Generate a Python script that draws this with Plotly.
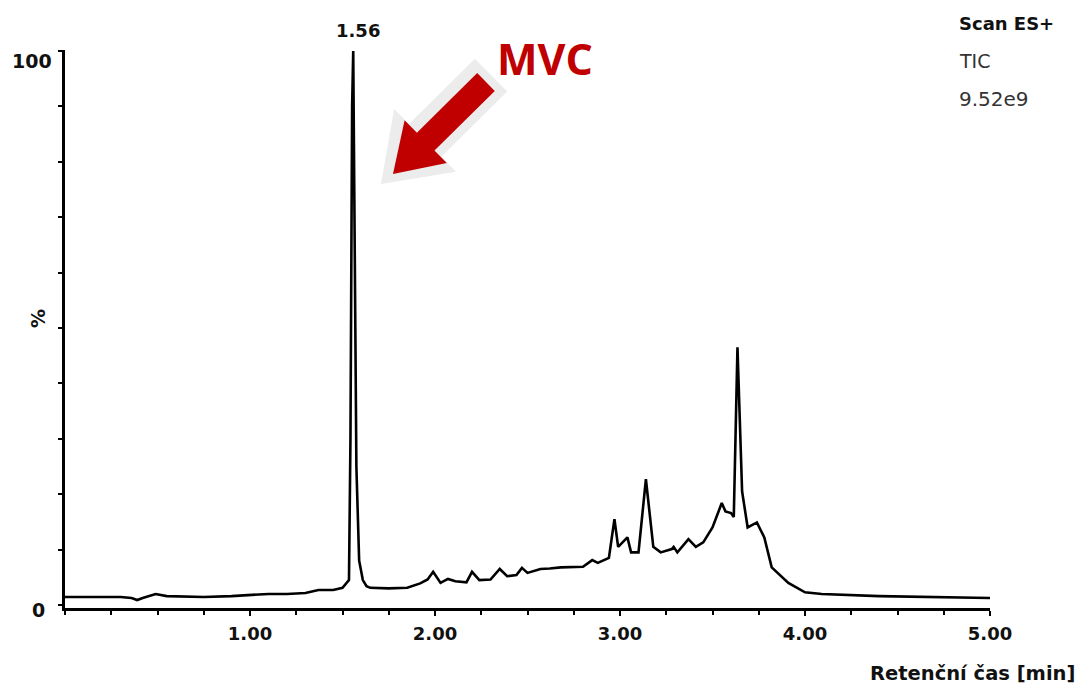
import plotly.graph_objects as go
import math

# ---- data (retention time [min], relative intensity [%]) ----
time_min = [0.00, 0.30, 0.36, 0.39, 0.42, 0.49, 0.55, 0.75, 0.90, 1.00, 1.10, 1.20, 1.30,
            1.37, 1.45, 1.50, 1.535, 1.543, 1.552, 1.558, 1.565, 1.575, 1.59, 1.61, 1.63,
            1.65, 1.75, 1.85, 1.92, 1.96, 1.99, 2.03, 2.07, 2.11, 2.17, 2.20, 2.24, 2.30,
            2.35, 2.39, 2.44, 2.47, 2.50, 2.57, 2.62, 2.68, 2.80, 2.85, 2.88, 2.94, 2.97,
            2.99, 3.04, 3.06, 3.10, 3.14, 3.18, 3.22, 3.28, 3.29, 3.31, 3.37, 3.41, 3.45,
            3.50, 3.55, 3.57, 3.60, 3.615, 3.635, 3.66, 3.69, 3.74, 3.78, 3.82, 3.91, 4.00,
            4.09, 4.40, 4.80, 5.00]
intensity = [1.44, 1.44, 1.26, 0.90, 1.26, 1.98, 1.60, 1.44, 1.60, 1.80, 2.00, 2.00, 2.16,
             2.70, 2.70, 3.10, 4.50, 30.0, 90.0, 100.0, 70.0, 25.0, 8.0, 4.5, 3.4,
             3.1, 3.0, 3.1, 3.9, 4.6, 6.0, 4.0, 4.7, 4.3, 4.1, 6.0, 4.5, 4.6,
             6.5, 5.2, 5.4, 6.7, 5.8, 6.5, 6.6, 6.8, 6.9, 8.1, 7.6, 8.5, 15.5,
             10.5, 12.2, 9.5, 9.5, 22.7, 10.5, 9.5, 10.1, 10.5, 9.5, 11.9, 10.5, 11.3,
             14.0, 18.4, 16.9, 16.6, 15.9, 46.5, 20.5, 14.0, 14.9, 12.2, 6.8, 4.0, 2.3,
             2.0, 1.6, 1.4, 1.26]

x_tick_vals = [1, 2, 3, 4, 5]
x_tick_text = ["1.00", "2.00", "3.00", "4.00", "5.00"]
x_minor_vals = [i * 0.25 for i in range(0, 21)]
y_tick_vals = [0, 10, 20, 30, 40, 50, 60, 70, 80, 90, 100]
y_label_vals = [0, 100]
y_label_text = ["0", "100"]
peak_time = 1.56
peak_label = "1.56"

# ---- layout geometry (pixels) ----
W, H = 1082, 689
L, R, T, B = 65, 92, 50, 81
PW, PH = W - L - R, H - T - B


def px(xp):
    return (xp - L) / PW


def py(yp):
    return (H - B - yp) / PH


FONT = "DejaVu Sans"

fig = go.Figure()
fig.add_trace(go.Scatter(x=time_min, y=intensity, mode="lines",
                         line=dict(color="black", width=2.6), hoverinfo="skip",
                         showlegend=False))

# ---- arrow (pixel geometry converted to paper coords) ----
tip = (393, 174)
tail = (486, 82)
ux, uy = tail[0] - tip[0], tail[1] - tip[1]
ln = math.hypot(ux, uy)
ux, uy = ux / ln, uy / ln
nx, ny = -uy, ux


def arrow_path(tipp, length, head_len, head_hw, shaft_hw):
    tx, ty = tipp
    bx, by = tx + ux * head_len, ty + uy * head_len
    ex, ey = tx + ux * length, ty + uy * length
    pts = [
        (tx, ty),
        (bx + nx * head_hw, by + ny * head_hw),
        (bx + nx * shaft_hw, by + ny * shaft_hw),
        (ex + nx * shaft_hw, ey + ny * shaft_hw),
        (ex - nx * shaft_hw, ey - ny * shaft_hw),
        (bx - nx * shaft_hw, by - ny * shaft_hw),
        (bx - nx * head_hw, by - ny * head_hw),
    ]
    return "M " + " L ".join(f"{px(a):.5f},{py(b):.5f}" for a, b in pts) + " Z"


shadow = arrow_path((tip[0] - 12, tip[1] + 10), ln + 24, 62, 44, 23)
arrow = arrow_path(tip, ln, 46, 30, 12.5)

shapes = [
    dict(type="path", path=shadow, xref="paper", yref="paper",
         fillcolor="rgba(228,228,228,0.7)", line=dict(width=0), layer="above"),
    dict(type="path", path=arrow, xref="paper", yref="paper",
         fillcolor="#c00000", line=dict(width=0), layer="above"),
]

annotations = [
    dict(x=peak_time, y=100, xref="x", yref="y", text=peak_label, showarrow=False,
         font=dict(family=FONT, size=18, color="#111", weight="bold"),
         yanchor="bottom", xanchor="center", xshift=4, yshift=8),
    dict(x=px(545), y=py(58), xref="paper", yref="paper", text="MVC", showarrow=False,
         font=dict(family="Open Sans", size=43, color="#c00000", weight="bold"),
         xanchor="center", yanchor="middle"),
    dict(x=px(957), y=py(23), xref="paper", yref="paper", text="Scan ES+", showarrow=False,
         font=dict(family=FONT, size=18, color="#111", weight="bold"),
         xanchor="left", yanchor="middle"),
    dict(x=px(957), y=py(61), xref="paper", yref="paper", text="TIC", showarrow=False,
         font=dict(family=FONT, size=19, color="#333"),
         xanchor="left", yanchor="middle"),
    dict(x=px(957), y=py(99), xref="paper", yref="paper", text="9.52e9", showarrow=False,
         font=dict(family=FONT, size=20, color="#333"),
         xanchor="left", yanchor="middle"),
    dict(x=px(38), y=py(319), xref="paper", yref="paper", text="%", showarrow=False,
         textangle=-90, font=dict(family=FONT, size=19, color="#111", weight="bold"),
         xanchor="center", yanchor="middle"),
    dict(x=px(1077), y=py(673), xref="paper", yref="paper", text="Retenční čas [min]",
         showarrow=False, font=dict(family=FONT, size=19.5, color="#111", weight="bold"),
         xanchor="right", yanchor="middle"),
]
# y-axis labels placed next to their axis values
for v, t, xc, sh in zip(y_label_vals, y_label_text, [38, 32], [-5, -10]):
    annotations.append(dict(x=px(xc), y=v, xref="paper", yref="y", text=t, showarrow=False,
                            font=dict(family=FONT, size=19, color="#111", weight="bold"),
                            xanchor="center", yanchor="middle", yshift=sh))

fig.update_layout(
    width=W, height=H,
    margin=dict(l=L, r=R, t=T, b=B, pad=0),
    paper_bgcolor="white", plot_bgcolor="white",
    shapes=shapes, annotations=annotations,
    xaxis=dict(range=[0, 5], showgrid=False, zeroline=False,
               showline=True, linecolor="black", linewidth=2.6,
               tickmode="array", tickvals=x_tick_vals, ticktext=x_tick_text,
               ticks="outside", ticklen=5, tickwidth=2, tickcolor="black",
               minor=dict(tickmode="array", tickvals=x_minor_vals, ticks="outside",
                          ticklen=4, tickwidth=1.6, tickcolor="black"),
               tickfont=dict(family=FONT, size=18, color="#111", weight="bold"),
               ticklabelstandoff=3),
    yaxis=dict(range=[-0.54, 100.18], showgrid=False, zeroline=False,
               showline=True, linecolor="black", linewidth=2.6,
               tickmode="array", tickvals=y_tick_vals, showticklabels=False,
               ticks="outside", ticklen=4, tickwidth=1.6, tickcolor="black"),
)

fig.write_html("out.html")
